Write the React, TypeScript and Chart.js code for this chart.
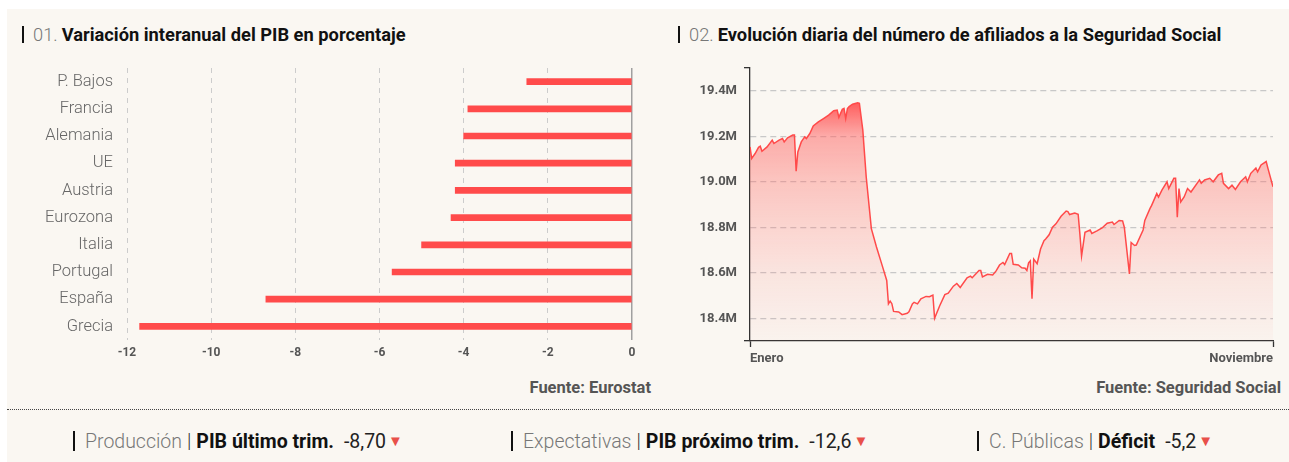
import React, { useEffect, useRef } from "react";
import { Chart, registerables } from "chart.js";

Chart.register(...registerables);

// ---------- Datos ----------
const paises = ["P. Bajos", "Francia", "Alemania", "UE", "Austria", "Eurozona", "Italia", "Portugal", "España", "Grecia"];
const variacionPIB = [-2.5, -3.9, -4.0, -4.2, -4.2, -4.3, -5.0, -5.7, -8.7, -11.7];
const ticksPIB = [-12, -10, -8, -6, -4, -2, 0];

const diasAfiliados = [
  0, 1, 3, 5, 6, 7, 10, 13, 14, 17, 19, 20, 22, 25, 26, 27, 28, 30, 32, 33, 35, 37, 40, 43, 46, 49, 51, 52, 54, 55,
  56, 57, 58, 60, 63, 64, 66, 68, 71, 74, 77, 80, 81, 82, 83, 84, 87, 89, 92, 93, 95, 96, 98, 100, 103, 105, 107, 108,
  111, 114, 116, 119, 121, 123, 127, 129, 130, 134, 135, 136, 139, 142, 144, 146, 148, 149, 152, 153, 154, 157, 159,
  161, 162, 163, 164, 165, 166, 168, 170, 172, 173, 175, 177, 179, 182, 185, 186, 187, 190, 192, 193, 194, 196, 199,
  200, 203, 206, 209, 212, 213, 216, 218, 219, 222, 223, 225, 226, 230, 231, 234, 235, 238, 239, 241, 244, 245, 248,
  249, 250, 251, 252, 254, 256, 258, 263, 264, 266, 269, 271, 274, 276, 277, 280, 282, 284, 287, 290, 291, 293, 296,
  297, 299, 302, 303, 306,
];
const afiliadosM = [
  19.153, 19.102, 19.124, 19.151, 19.156, 19.134, 19.153, 19.183, 19.168, 19.183, 19.19, 19.175, 19.193, 19.205, 19.205,
  19.046, 19.131, 19.175, 19.197, 19.19, 19.212, 19.245, 19.263, 19.278, 19.293, 19.312, 19.315, 19.283, 19.318, 19.322,
  19.278, 19.322, 19.33, 19.341, 19.347, 19.345, 19.227, 19.021, 18.794, 18.713, 18.64, 18.566, 18.463, 18.475, 18.464,
  18.43, 18.428, 18.416, 18.422, 18.428, 18.463, 18.47, 18.463, 18.485, 18.496, 18.495, 18.502, 18.4,
  18.455, 18.504, 18.51, 18.541, 18.553, 18.535, 18.578, 18.585, 18.578, 18.61, 18.61, 18.582, 18.593, 18.59, 18.608,
  18.634, 18.645, 18.636, 18.685, 18.685, 18.637, 18.634, 18.622,
  18.62, 18.61, 18.644, 18.652, 18.486, 18.66, 18.64, 18.704, 18.741, 18.748, 18.767, 18.8, 18.815, 18.848, 18.871,
  18.869, 18.856, 18.862, 18.857, 18.771, 18.674, 18.778, 18.788,
  18.773, 18.784, 18.797, 18.818, 18.823, 18.812, 18.83, 18.828, 18.8, 18.595, 18.733, 18.72, 18.722, 18.788, 18.83,
  18.882, 18.896, 18.948, 18.933, 18.963, 19.0, 18.97, 19.015,
  19.015, 18.844, 18.97, 18.911, 18.933, 18.97, 18.955, 19.008, 18.993, 19.008, 19.015, 19.0, 19.03, 19.037, 18.993,
  18.97, 18.985, 18.966, 19.0, 19.022, 19.0, 19.037, 19.06,
  19.044, 19.074, 19.089, 19.06, 18.978,
];
const ticksAfiliados = [18.4, 18.6, 18.8, 19.0, 19.2, 19.4];
const limitesAfiliados = [18.3, 19.5];
const diasEtiquetas = [0, 306];
const etiquetasMeses = ["Enero", "Noviembre"];

const kpiGrupos = ["Producción", "Expectativas", "C. Públicas"];
const kpiNombres = ["PIB último trim.", "PIB próximo trim.", "Déficit"];
const kpiValores = ["-8,70", "-12,6", "-5,2"];

// ---------- Estilos ----------
const FONT = "Roboto, 'Noto Sans', sans-serif";
const RED = "#ff4b4b";
const BG = "#faf7f2";

function BarsChart() {
  const ref = useRef<HTMLCanvasElement>(null);
  useEffect(() => {
    const chart = new Chart(ref.current!, {
      type: "bar",
      data: {
        labels: paises,
        datasets: [
          {
            data: variacionPIB,
            backgroundColor: RED,
            barThickness: 6,
            borderWidth: 0,
          },
        ],
      },
      options: {
        indexAxis: "y",
        responsive: false,
        animation: false,
        events: [],
        layout: { padding: { top: 24, right: 28, left: 0, bottom: 0 } },
        plugins: { legend: { display: false }, tooltip: { enabled: false } },
        scales: {
          x: {
            min: -12,
            max: 0,
            afterBuildTicks: (s: any) => {
              s.ticks = ticksPIB.map((v) => ({ value: v }));
            },
            afterFit: (s: any) => {
              s.height = 30;
            },
            grid: {
              drawTicks: false,
              color: (c: any) => (c.tick && c.tick.value === 0 ? "#a0a0a0" : "#cccccc"),
              lineWidth: (c: any) => (c.tick && c.tick.value === 0 ? 1.5 : 1),
            },
            border: {
              display: false,
              dash: (c: any) => (c.tick && c.tick.value === 0 ? [] : [5, 5]),
            },
            ticks: {
              padding: 6,
              color: "#555",
              font: { family: FONT, size: 12, weight: "bold" },
              callback: (v: any) => String(v),
            },
          },
          y: {
            afterFit: (s: any) => {
              s.width = 107;
            },
            grid: { display: false, drawTicks: false },
            border: { display: false },
            ticks: {
              padding: 14,
              color: "#666",
              font: { family: FONT, size: 16.5, weight: "300" },
            },
          },
        },
      },
    });
    return () => chart.destroy();
  }, []);
  return <canvas ref={ref} width={640} height={326} style={{ position: "absolute", left: 13, top: 35 }} />;
}

function LineChart() {
  const ref = useRef<HTMLCanvasElement>(null);
  useEffect(() => {
    const todos = [limitesAfiliados[0], ...ticksAfiliados, limitesAfiliados[1]];
    const chart = new Chart(ref.current!, {
      type: "line",
      data: {
        datasets: [
          {
            data: diasAfiliados.map((d, i) => ({ x: d, y: afiliadosM[i] })),
            borderColor: "#ff4a4a",
            borderWidth: 1.5,
            pointRadius: 0,
            tension: 0,
            fill: "start",
            backgroundColor: (c: any) => {
              const { ctx, chartArea } = c.chart;
              if (!chartArea) return "rgba(255,80,80,0.3)";
              const g = ctx.createLinearGradient(0, chartArea.top, 0, chartArea.bottom);
              g.addColorStop(0, "rgba(255,55,55,1)");
              g.addColorStop(0.12, "rgba(255,70,70,0.9)");
              g.addColorStop(0.25, "rgba(255,95,95,0.5)");
              g.addColorStop(0.42, "rgba(255,105,100,0.35)");
              g.addColorStop(0.58, "rgba(255,110,105,0.25)");
              g.addColorStop(0.75, "rgba(255,115,110,0.14)");
              g.addColorStop(1, "rgba(255,120,115,0.03)");
              return g;
            },
          },
        ],
      },
      options: {
        responsive: false,
        animation: false,
        events: [],
        layout: { padding: { top: 18, right: 16, left: 0, bottom: 0 } },
        plugins: { legend: { display: false }, tooltip: { enabled: false } },
        scales: {
          x: {
            type: "linear",
            min: diasEtiquetas[0],
            max: diasEtiquetas[1],
            afterBuildTicks: (s: any) => {
              s.ticks = diasEtiquetas.map((v) => ({ value: v }));
            },
            afterFit: (s: any) => {
              s.height = 29;
            },
            grid: { drawOnChartArea: false, tickLength: 6, tickColor: "#333", tickWidth: 1.3 },
            border: { display: true, color: "#333", width: 1.3 },
            ticks: {
              align: "inner",
              maxRotation: 0,
              autoSkip: false,
              padding: 4,
              color: "#555",
              font: { family: FONT, size: 13, weight: "bold" },
              callback: (_v: any, i: number) => etiquetasMeses[i],
            },
          },
          y: {
            min: limitesAfiliados[0],
            max: limitesAfiliados[1],
            afterBuildTicks: (s: any) => {
              s.ticks = todos.map((v) => ({ value: v }));
            },
            afterFit: (s: any) => {
              s.width = 70;
            },
            grid: {
              color: (c: any) => (c.tick && ticksAfiliados.includes(c.tick.value) ? "#c8c8c8" : "rgba(0,0,0,0)"),
              tickColor: (c: any) => (c.tick && limitesAfiliados.includes(c.tick.value) ? "#333" : "rgba(0,0,0,0)"),
              tickLength: 6,
              lineWidth: 1.3,
            },
            border: { display: true, color: "#333", width: 1.3, dash: [6, 4] },
            ticks: {
              padding: 7,
              color: "#555",
              font: { family: FONT, size: 13, weight: "bold" },
              callback: (v: any) => (ticksAfiliados.includes(v) ? Number(v).toFixed(1) + "M" : ""),
            },
          },
        },
      },
    });
    return () => chart.destroy();
  }, []);
  return <canvas ref={ref} width={609} height={320} style={{ position: "absolute", left: 673, top: 41 }} />;
}

function Titulo({ left, num, texto }: { left: number; num: string; texto: string }) {
  return (
    <div
      style={{
        position: "absolute",
        left,
        top: 14,
        height: 22,
        display: "flex",
        alignItems: "center",
        fontFamily: FONT,
        fontSize: 18.3,
        whiteSpace: "nowrap",
      }}
    >
      <span style={{ display: "inline-block", width: 2, height: 17, background: "#111", marginRight: 9 }} />
      <span style={{ color: "#777", fontWeight: 300, marginRight: 4 }}>{num}</span>
      <span style={{ color: "#111", fontWeight: 700 }}>{texto}</span>
    </div>
  );
}

const kpiPos = [66, 504, 970];

function Kpi({ i }: { i: number }) {
  return (
    <div
      style={{
        position: "absolute",
        left: kpiPos[i],
        top: 421,
        height: 22,
        display: "flex",
        alignItems: "center",
        fontFamily: FONT,
        fontSize: 19.5,
        whiteSpace: "nowrap",
      }}
    >
      <span style={{ display: "inline-block", width: 2, height: 20, background: "#111", marginRight: 10 }} />
      <span style={{ color: "#777", fontWeight: 300 }}>{kpiGrupos[i]}</span>
      <span style={{ color: "#333", margin: "0 5px", fontWeight: 300 }}>|</span>
      <span style={{ color: "#111", fontWeight: 700 }}>{kpiNombres[i]}</span>
      <span style={{ color: "#222", marginLeft: 10 }}>{kpiValores[i]}</span>
      <span style={{ color: "#e8504a", fontSize: 15, marginLeft: 2 }}>▼</span>
    </div>
  );
}

export default function App() {
  const fuente = {
    position: "absolute" as const,
    top: 369,
    fontFamily: FONT,
    fontSize: 16.5,
    fontWeight: 700,
    color: "#555",
    whiteSpace: "nowrap" as const,
  };
  return (
    <div
      style={{
        position: "absolute",
        left: 7,
        top: 9,
        width: 1282,
        height: 453,
        background: BG,
        overflow: "hidden",
      }}
    >
      <Titulo left={15} num="01." texto="Variación interanual del PIB en porcentaje" />
      <Titulo left={671} num="02." texto="Evolución diaria del número de afiliados a la Seguridad Social" />
      <BarsChart />
      <LineChart />
      <div style={{ ...fuente, right: 1282 - 644 }}>Fuente: Eurostat</div>
      <div style={{ ...fuente, right: 1282 - 1274 }}>Fuente: Seguridad Social</div>
      <div style={{ position: "absolute", left: 0, right: 0, top: 400, borderTop: "1px dotted #444" }} />
      <Kpi i={0} />
      <Kpi i={1} />
      <Kpi i={2} />
    </div>
  );
}
